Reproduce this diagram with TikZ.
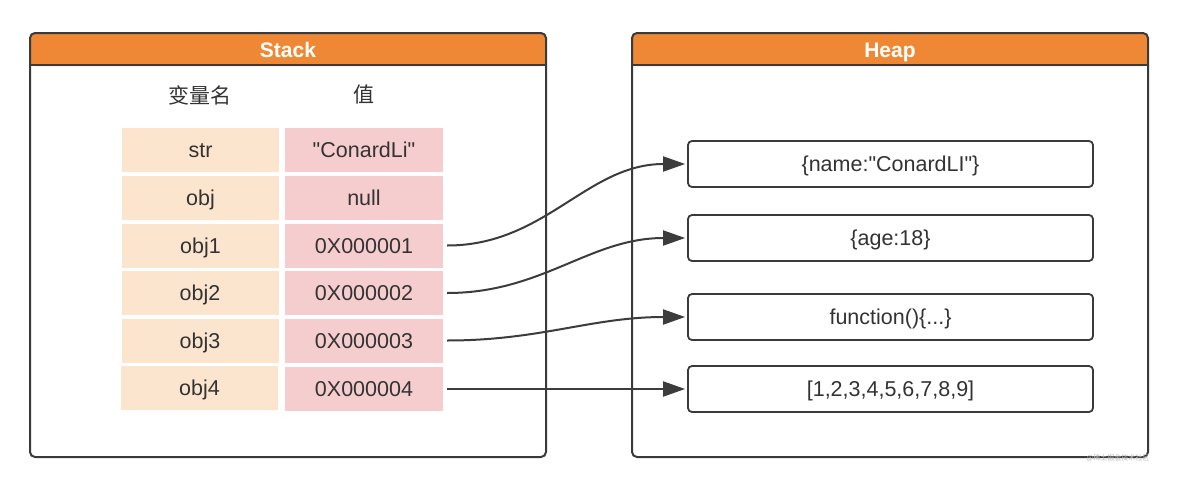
\documentclass[tikz,border=0pt]{standalone}
\usepackage{fontspec}
\setmainfont{Liberation Sans}[Ligatures=TeXOff]
\newfontfamily\cjk{Noto Sans CJK SC}
\usetikzlibrary{arrows.meta}
\definecolor{hdr}{HTML}{EE8834}
\definecolor{frm}{HTML}{3A3A3A}
\definecolor{peach}{HTML}{FCE5CF}
\definecolor{pinkc}{HTML}{F6CDCE}
\definecolor{txt}{HTML}{333333}
\definecolor{arr}{HTML}{3C3C3C}
\definecolor{wm}{HTML}{B8B8B8}
\begin{document}
\begin{tikzpicture}[x=1pt,y=-1pt,
  frame/.style={draw=frm, line width=2pt, rounded corners=5pt,
    minimum width=516pt, minimum height=424pt, inner sep=0pt,
    path picture={\fill[hdr] (path picture bounding box.north west) rectangle ([yshift=-33pt]path picture bounding box.north east);}},
  hdrtext/.style={text height=15pt, text depth=0pt, text=white, font=\bfseries\fontsize{21}{25}\selectfont, inner sep=0pt},
  colhead/.style={text=txt, font=\cjk\fontsize{21}{25}\selectfont, inner sep=0pt},
  cellL/.style={text height=15.5pt, text depth=0pt, fill=peach, minimum width=157pt, minimum height=44pt, inner sep=0pt,
    text=txt, font=\fontsize{21.5}{26}\selectfont},
  cellR/.style={cellL, fill=pinkc, minimum width=158pt},
  hbox/.style={text height=15.5pt, text depth=0pt, draw=frm, line width=1.8pt, rounded corners=4pt, fill=white,
    minimum width=405pt, minimum height=46pt, inner sep=0pt,
    text=txt, font=\fontsize{21.5}{26}\selectfont},
  link/.style={draw=arr, line width=2pt, -{Triangle[length=22pt,width=15pt]}}
]
\useasboundingbox (0,0) rectangle (1192,490);
\fill[white] (0,0) rectangle (1192,490);

% frames
\node[frame] (stack) at (288,245) {};
\node[frame] (heap) at (890,245) {};
\draw[frm, line width=2pt] ([yshift=-33pt]stack.north west) -- ([yshift=-33pt]stack.north east);
\draw[frm, line width=2pt] ([yshift=-33pt]heap.north west) -- ([yshift=-33pt]heap.north east);
\node[hdrtext] (stackt) at (288,50) {Stack};
\node[hdrtext] (heapt) at (890,50) {Heap};

% column headers
\node[colhead] (ch1) at (200,95) {变量名};
\node[colhead] (ch2) at (364,95) {值};

% table
\node[cellL] (n1) at (200.5,149.5) {str};
\node[cellR] (v1) at (364,149.5) {"ConardLi"};
\node[cellL] (n2) at (200.5,197.5) {obj};
\node[cellR] (v2) at (364,197.5) {null};
\node[cellL] (n3) at (200.5,245.5) {obj1};
\node[cellR] (v3) at (364,245.5) {0X000001};
\node[cellL] (n4) at (200,293) {obj2};
\node[cellR] (v4) at (364,293) {0X000002};
\node[cellL] (n5) at (200,340.5) {obj3};
\node[cellR] (v5) at (364,340.5) {0X000003};
\node[cellL] (n6) at (199.5,388) {obj4};
\node[cellR] (v6) at (364,389) {0X000004};

% heap objects
\node[hbox] (h1) at (890.5,164) {\{name:"ConardLI"\}};
\node[hbox] (h2) at (890.5,238) {\{age:18\}};
\node[hbox] (h3) at (890.5,317) {function()\{...\}};
\node[hbox] (h4) at (890.5,389) {[1,2,3,4,5,6,7,8,9]};

% links
\draw[link] ([xshift=4pt]v3.east) to[out=0,in=180] ([xshift=-2pt]h1.west);
\draw[link] ([xshift=4pt]v4.east) to[out=0,in=180] ([xshift=-2pt]h2.west);
\draw[link] ([xshift=4pt]v5.east) to[out=0,in=180] ([xshift=-2pt]h3.west);
\draw[link] ([xshift=4pt]v6.east) -- ([xshift=-2pt]h4.west);

% watermark
\node[text=wm, font=\cjk\fontsize{7}{8}\selectfont, inner sep=0pt] (wmk) at (1118,458) {@稀土掘金技术社区};
\end{tikzpicture}
\end{document}
